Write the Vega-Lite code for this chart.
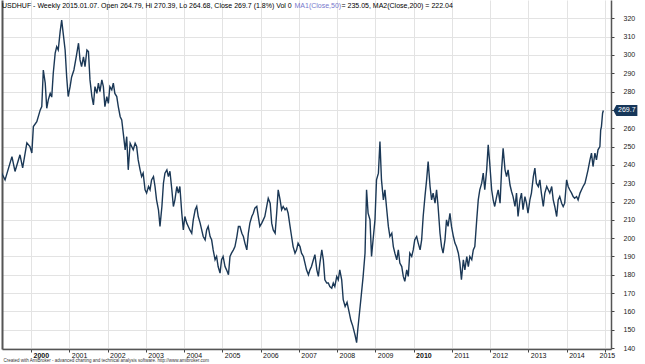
{
"$schema": "https://vega.github.io/schema/vega-lite/v6.json",
"width": 609, "height": 349,
"autosize": {"type": "none"},
"padding": {"left": 2, "top": 0, "right": 34, "bottom": 15},
"background": "white",
"config": {"view": {"stroke": null}, "font": "Liberation Sans"},
"title": {"text": "USDHUF - Weekly 2015.01.07. Open 264.79, Hi 270.39, Lo 264.68, Close 269.7 (1.8%) Vol 0", "anchor": "start", "frame": "group", "orient": "top", "offset": -15, "baseline": "alphabetic", "fontSize": 7, "fontWeight": "normal", "color": "#000000", "font": "Liberation Sans"},
"layer": [
{
"data": {"values": [
{"t":1999.23,"v":235.6},{"t":1999.32,"v":231.8},{"t":1999.50,"v":244.5},{"t":1999.58,"v":236.4},{"t":1999.71,"v":245.5},{"t":1999.78,"v":238.4},{"t":1999.89,"v":252},{"t":1999.97,"v":250},
{"t":2000.02,"v":246.5},{"t":2000.06,"v":260.9},{"t":2000.15,"v":263.6},{"t":2000.24,"v":270},{"t":2000.28,"v":271.8},{"t":2000.32,"v":291.8},{"t":2000.37,"v":284.6},{"t":2000.41,"v":270.9},{"t":2000.45,"v":275.5},{"t":2000.50,"v":279},{"t":2000.54,"v":277},{"t":2000.58,"v":290},{"t":2000.63,"v":301},{"t":2000.67,"v":304.5},{"t":2000.71,"v":302.7},{"t":2000.76,"v":312.7},{"t":2000.80,"v":319},{"t":2000.84,"v":311.8},{"t":2000.89,"v":302.7},{"t":2000.93,"v":288.2},{"t":2000.97,"v":277.3},
{"t":2001.02,"v":282.7},{"t":2001.06,"v":288},{"t":2001.12,"v":291.8},{"t":2001.18,"v":299},{"t":2001.24,"v":306.4},{"t":2001.28,"v":297.3},{"t":2001.32,"v":293.6},{"t":2001.37,"v":299},{"t":2001.41,"v":293.6},{"t":2001.46,"v":302.7},{"t":2001.50,"v":301.8},{"t":2001.54,"v":286.4},{"t":2001.59,"v":277.3},{"t":2001.63,"v":272.7},{"t":2001.67,"v":282.7},{"t":2001.72,"v":279},{"t":2001.76,"v":284.6},{"t":2001.80,"v":280},{"t":2001.85,"v":286.4},{"t":2001.89,"v":282.7},{"t":2001.93,"v":271.8},{"t":2001.98,"v":277.3},
{"t":2002.02,"v":273.6},{"t":2002.06,"v":282.7},{"t":2002.11,"v":280.9},{"t":2002.15,"v":284.6},{"t":2002.19,"v":279},{"t":2002.24,"v":277.3},{"t":2002.28,"v":271.8},{"t":2002.33,"v":266.3},{"t":2002.37,"v":264.5},{"t":2002.41,"v":257.3},{"t":2002.46,"v":248.2},{"t":2002.50,"v":255.4},{"t":2002.54,"v":237.3},{"t":2002.59,"v":251.8},{"t":2002.63,"v":250},{"t":2002.67,"v":248.2},{"t":2002.72,"v":251.8},{"t":2002.76,"v":250},{"t":2002.80,"v":242.7},{"t":2002.85,"v":237.3},{"t":2002.89,"v":233.6},{"t":2002.93,"v":235.5},{"t":2002.98,"v":226.4},
{"t":2003.02,"v":224.6},{"t":2003.07,"v":228.2},{"t":2003.11,"v":226.4},{"t":2003.15,"v":231.8},{"t":2003.20,"v":233.6},{"t":2003.24,"v":228.2},{"t":2003.28,"v":220.9},{"t":2003.33,"v":215.5},{"t":2003.37,"v":206.4},{"t":2003.42,"v":217.3},{"t":2003.46,"v":230},{"t":2003.50,"v":235.5},{"t":2003.55,"v":237.3},{"t":2003.59,"v":233.6},{"t":2003.63,"v":236.5},{"t":2003.68,"v":226.4},{"t":2003.72,"v":217.3},{"t":2003.76,"v":220.9},{"t":2003.81,"v":228.2},{"t":2003.85,"v":224.6},{"t":2003.89,"v":228.2},{"t":2003.94,"v":213.6},{"t":2003.98,"v":204.5},
{"t":2004.02,"v":211.8},{"t":2004.07,"v":208.2},{"t":2004.11,"v":206.4},{"t":2004.15,"v":204.5},{"t":2004.20,"v":202.7},{"t":2004.24,"v":210},{"t":2004.29,"v":215.5},{"t":2004.33,"v":217.3},{"t":2004.37,"v":211.8},{"t":2004.42,"v":208.2},{"t":2004.46,"v":204.5},{"t":2004.50,"v":200.9},{"t":2004.55,"v":199.1},{"t":2004.59,"v":204.5},{"t":2004.63,"v":206.4},{"t":2004.68,"v":200.9},{"t":2004.72,"v":199.1},{"t":2004.76,"v":193.6},{"t":2004.81,"v":188.2},{"t":2004.85,"v":190},{"t":2004.89,"v":184.5},{"t":2004.94,"v":180.9},{"t":2004.98,"v":188.2},
{"t":2005.02,"v":190},{"t":2005.07,"v":184.5},{"t":2005.11,"v":182.7},{"t":2005.16,"v":180},{"t":2005.20,"v":190},{"t":2005.24,"v":191.8},{"t":2005.29,"v":193.6},{"t":2005.33,"v":195.4},{"t":2005.38,"v":200.9},{"t":2005.42,"v":206.4},{"t":2005.46,"v":206.4},{"t":2005.51,"v":202.7},{"t":2005.55,"v":200.9},{"t":2005.59,"v":197.3},{"t":2005.64,"v":193.6},{"t":2005.68,"v":202.7},{"t":2005.72,"v":208.2},{"t":2005.77,"v":211.8},{"t":2005.81,"v":213.6},{"t":2005.85,"v":216.4},{"t":2005.90,"v":217.3},{"t":2005.94,"v":211.8},{"t":2005.98,"v":206.4},
{"t":2006.03,"v":208.2},{"t":2006.07,"v":210},{"t":2006.11,"v":211.8},{"t":2006.16,"v":217.3},{"t":2006.20,"v":221.8},{"t":2006.25,"v":219.1},{"t":2006.29,"v":208.2},{"t":2006.33,"v":204.5},{"t":2006.38,"v":202.7},{"t":2006.42,"v":213.6},{"t":2006.46,"v":226.4},{"t":2006.51,"v":220.9},{"t":2006.55,"v":215.5},{"t":2006.59,"v":217.3},{"t":2006.64,"v":215.5},{"t":2006.68,"v":216.4},{"t":2006.72,"v":213.6},{"t":2006.77,"v":206.4},{"t":2006.81,"v":200.9},{"t":2006.85,"v":195.4},{"t":2006.90,"v":191.8},{"t":2006.94,"v":193.6},{"t":2006.98,"v":197.3},
{"t":2007.03,"v":195.4},{"t":2007.07,"v":191.8},{"t":2007.12,"v":190},{"t":2007.16,"v":186.4},{"t":2007.20,"v":182.7},{"t":2007.25,"v":180},{"t":2007.29,"v":182.7},{"t":2007.33,"v":184.5},{"t":2007.38,"v":188.2},{"t":2007.42,"v":191},{"t":2007.47,"v":182.7},{"t":2007.51,"v":179.1},{"t":2007.55,"v":186.4},{"t":2007.60,"v":193.6},{"t":2007.64,"v":188.2},{"t":2007.68,"v":177.3},{"t":2007.73,"v":175.5},{"t":2007.77,"v":175.5},{"t":2007.81,"v":173.6},{"t":2007.86,"v":172.7},{"t":2007.90,"v":175.5},{"t":2007.94,"v":173.6},{"t":2007.99,"v":179.1},
{"t":2008.03,"v":177.3},{"t":2008.07,"v":182.7},{"t":2008.12,"v":177.3},{"t":2008.16,"v":166.4},{"t":2008.21,"v":162.7},{"t":2008.26,"v":165},{"t":2008.31,"v":160},{"t":2008.36,"v":155},{"t":2008.41,"v":152},{"t":2008.47,"v":147},{"t":2008.51,"v":143},{"t":2008.54,"v":150},{"t":2008.62,"v":166.4},{"t":2008.68,"v":179},{"t":2008.73,"v":191.8},{"t":2008.77,"v":226.4},{"t":2008.81,"v":213.6},{"t":2008.86,"v":210},{"t":2008.90,"v":190},{"t":2008.94,"v":199},{"t":2008.99,"v":210},
{"t":2009.03,"v":231.8},{"t":2009.08,"v":235.5},{"t":2009.12,"v":252.7},{"t":2009.16,"v":231.8},{"t":2009.21,"v":220.9},{"t":2009.25,"v":226.4},{"t":2009.29,"v":217.3},{"t":2009.34,"v":206.4},{"t":2009.38,"v":200.9},{"t":2009.43,"v":202.7},{"t":2009.47,"v":195.4},{"t":2009.51,"v":191.8},{"t":2009.56,"v":188.2},{"t":2009.60,"v":193.6},{"t":2009.64,"v":186.4},{"t":2009.69,"v":184.5},{"t":2009.73,"v":179.1},{"t":2009.77,"v":176.4},{"t":2009.82,"v":182.7},{"t":2009.86,"v":179.1},{"t":2009.90,"v":191.8},{"t":2009.95,"v":190},{"t":2009.99,"v":193.6},
{"t":2010.03,"v":199.1},{"t":2010.08,"v":200.9},{"t":2010.12,"v":197.3},{"t":2010.17,"v":193.6},{"t":2010.21,"v":199.1},{"t":2010.25,"v":211.8},{"t":2010.30,"v":223.5},{"t":2010.34,"v":231.8},{"t":2010.38,"v":241.8},{"t":2010.43,"v":228.2},{"t":2010.47,"v":220.9},{"t":2010.51,"v":224.6},{"t":2010.56,"v":219.1},{"t":2010.60,"v":226.4},{"t":2010.64,"v":217.3},{"t":2010.69,"v":202.7},{"t":2010.73,"v":195.4},{"t":2010.77,"v":191.8},{"t":2010.82,"v":199.1},{"t":2010.86,"v":210},{"t":2010.90,"v":206.4},{"t":2010.95,"v":213.6},{"t":2010.99,"v":206.4},
{"t":2011.04,"v":200.9},{"t":2011.08,"v":197.3},{"t":2011.12,"v":195.4},{"t":2011.17,"v":191.8},{"t":2011.21,"v":186.4},{"t":2011.25,"v":177.3},{"t":2011.30,"v":188.2},{"t":2011.34,"v":182.7},{"t":2011.39,"v":190},{"t":2011.43,"v":184.5},{"t":2011.47,"v":190},{"t":2011.52,"v":188.2},{"t":2011.56,"v":193.6},{"t":2011.60,"v":195.4},{"t":2011.65,"v":210},{"t":2011.69,"v":220.9},{"t":2011.73,"v":226.4},{"t":2011.78,"v":230},{"t":2011.82,"v":235.5},{"t":2011.86,"v":226.4},{"t":2011.91,"v":237.3},{"t":2011.95,"v":250.9},{"t":2011.99,"v":240.9},
{"t":2012.04,"v":226.4},{"t":2012.08,"v":220.9},{"t":2012.12,"v":217.3},{"t":2012.17,"v":222.7},{"t":2012.21,"v":226.4},{"t":2012.26,"v":219.1},{"t":2012.30,"v":237.3},{"t":2012.34,"v":249.1},{"t":2012.39,"v":237.3},{"t":2012.43,"v":233.6},{"t":2012.47,"v":237.3},{"t":2012.52,"v":229},{"t":2012.56,"v":225.5},{"t":2012.60,"v":222.7},{"t":2012.65,"v":217.3},{"t":2012.69,"v":224.6},{"t":2012.73,"v":211.8},{"t":2012.78,"v":220.9},{"t":2012.82,"v":224.6},{"t":2012.86,"v":215.5},{"t":2012.91,"v":222.7},{"t":2012.95,"v":219.1},{"t":2012.99,"v":213.6},
{"t":2013.04,"v":220.9},{"t":2013.08,"v":224.6},{"t":2013.13,"v":233.6},{"t":2013.17,"v":238.2},{"t":2013.21,"v":230},{"t":2013.26,"v":228.2},{"t":2013.30,"v":231.8},{"t":2013.34,"v":224.6},{"t":2013.39,"v":217.3},{"t":2013.43,"v":224.6},{"t":2013.48,"v":228.2},{"t":2013.52,"v":226.4},{"t":2013.56,"v":224.6},{"t":2013.61,"v":228.2},{"t":2013.65,"v":220.9},{"t":2013.69,"v":217.3},{"t":2013.74,"v":211.8},{"t":2013.78,"v":220.9},{"t":2013.82,"v":222.7},{"t":2013.87,"v":219.1},{"t":2013.91,"v":217.3},{"t":2013.95,"v":219.1},
{"t":2014.00,"v":231.8},{"t":2014.04,"v":228.2},{"t":2014.08,"v":226.4},{"t":2014.13,"v":224.6},{"t":2014.17,"v":222.7},{"t":2014.21,"v":221.8},{"t":2014.26,"v":222.7},{"t":2014.30,"v":220.9},{"t":2014.35,"v":224.6},{"t":2014.39,"v":226.4},{"t":2014.43,"v":228.2},{"t":2014.48,"v":230},{"t":2014.52,"v":233.6},{"t":2014.56,"v":237.3},{"t":2014.61,"v":242.7},{"t":2014.65,"v":246.4},{"t":2014.69,"v":239.1},{"t":2014.74,"v":246.4},{"t":2014.78,"v":242.7},{"t":2014.82,"v":248.2},{"t":2014.87,"v":250},{"t":2014.89,"v":259},{"t":2014.91,"v":260.9},{"t":2014.94,"v":268.2},{"t":2014.96,"v":269.7}
]},
"mark": {"type": "line", "color": "#1b3856", "strokeWidth": 1.4, "clip": true},
"encoding": {
"x": {"field": "t", "type": "quantitative",
 "scale": {"domain": [1999.24, 2015.16], "nice": false, "zero": false},
 "axis": {"values": [2000,2001,2002,2003,2004,2005,2006,2007,2008,2009,2010,2011,2012,2013,2014,2015], "format": "d",
  "grid": true, "gridColor": "#e3e3e3", "gridWidth": 1,
  "domain": true, "domainColor": "#555555", "domainWidth": 1.5,
  "ticks": true, "tickSize": 3, "tickColor": "#444444",
  "labelAlign": {"condition": {"test": "datum.value == 2015", "value": "center"}, "value": "left"},
  "labelOffset": 2, "labelPadding": -1, "labelBaseline": "top",
  "labelFontSize": 7, "labelColor": "#111111", "labelFont": "Liberation Sans",
  "labelFontWeight": {"condition": {"test": "datum.value == 2000 || datum.value == 2010", "value": "bold"}, "value": "normal"},
  "labelOverlap": false,
  "title": "Created with AmiBroker - advanced charting and technical analysis software. http://www.amibroker.com",
  "titleX": 1, "titleY": 11, "titleAlign": "left", "titleAnchor": null, "titleBaseline": "middle",
  "titleFontSize": 4.5, "titleFontWeight": "normal", "titleColor": "#333333", "titleFont": "Liberation Sans"}},
"y": {"field": "v", "type": "quantitative",
 "scale": {"domain": [139.5, 330], "nice": false, "zero": false},
 "axis": {"orient": "right", "values": [140,150,160,170,180,190,200,210,220,230,240,250,260,270,280,290,300,310,320],
  "grid": true, "gridColor": "#e3e3e3", "gridWidth": 1,
  "domain": true, "domainColor": "#555555", "domainWidth": 1.5,
  "ticks": true, "tickSize": 3, "tickColor": "#444444",
  "labelPadding": 9, "labelAlign": "left", "labelBaseline": "middle",
  "labelFontSize": 7, "labelColor": "#222222", "labelFont": "Liberation Sans",
  "title": " = 235.05, MA2(Close,200) = 222.04",
  "titleAngle": 0, "titleX": -270, "titleY": 7.5, "titleAlign": "left", "titleAnchor": null, "titleBaseline": "alphabetic",
  "titleFontSize": 7, "titleFontWeight": "normal", "titleColor": "#000000", "titleFont": "Liberation Sans"}}
}
},
{
"data": {"values": [{"t": 2014.96, "v": 269.7}]},
"mark": {"type": "point", "filled": true, "opacity": 1, "size": 4, "color": "#17375a", "strokeWidth": 0,
 "shape": "M10,0 L13,-5.5 L34,-5.5 L34,5.5 L13,5.5 Z"},
"encoding": {
"x": {"field": "t", "type": "quantitative", "scale": {"domain": [1999.24, 2015.16], "nice": false, "zero": false}},
"y": {"field": "v", "type": "quantitative", "scale": {"domain": [139.5, 330], "nice": false, "zero": false},
 "axis": {"orient": "left", "grid": false, "ticks": false, "labels": false,
  "domain": true, "domainColor": "#555555", "domainWidth": 2,
  "title": "MA1(Close,50)", "titleAngle": 0, "titleX": 292, "titleY": 7.5, "titleAlign": "left", "titleAnchor": null, "titleBaseline": "alphabetic",
  "titleFontSize": 7, "titleFontWeight": "normal", "titleColor": "#7777cc", "titleFont": "Liberation Sans"}}
}
},
{
"data": {"values": [{"t": 2014.96, "v": 269.7, "label": "269.7"}]},
"mark": {"type": "text", "dx": 23.5, "align": "center", "baseline": "middle", "fontSize": 7, "font": "Liberation Sans", "color": "#ffffff"},
"encoding": {
"x": {"field": "t", "type": "quantitative", "scale": {"domain": [1999.24, 2015.16], "nice": false, "zero": false}},
"y": {"field": "v", "type": "quantitative", "scale": {"domain": [139.5, 330], "nice": false, "zero": false}, "axis": null},
"text": {"field": "label"}
}
}
],
"resolve": {"axis": {"y": "independent"}}
}
